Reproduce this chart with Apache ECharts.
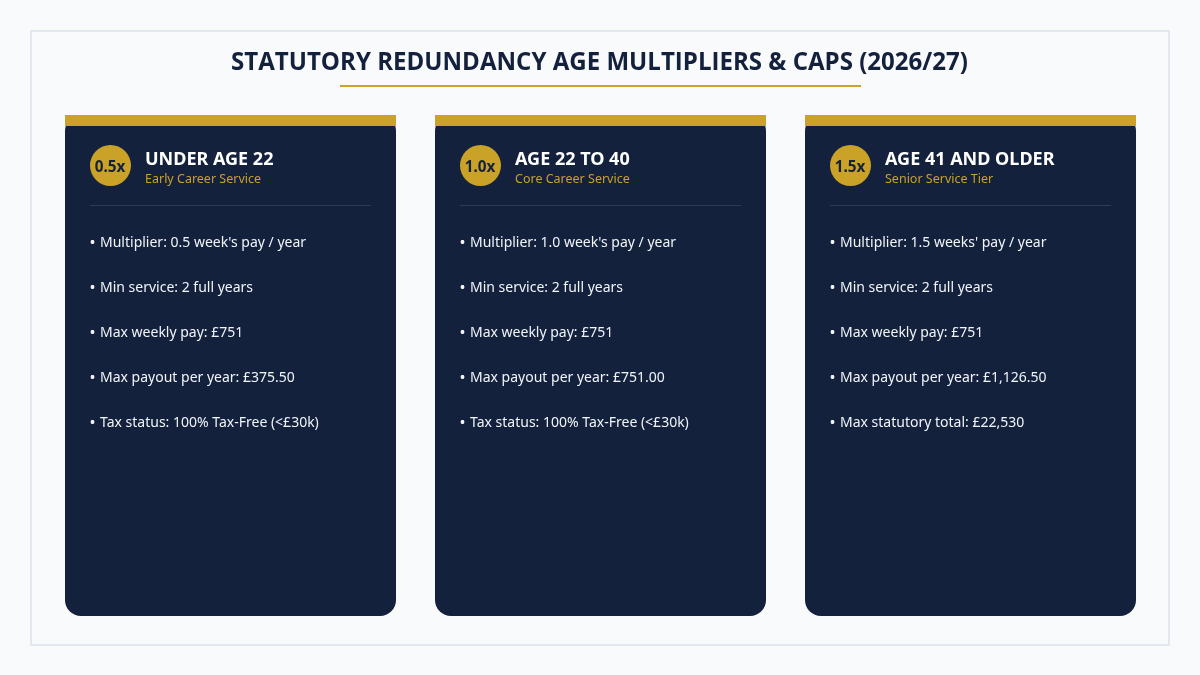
<!DOCTYPE html>
<html><head><meta charset="utf-8">
<style>html,body{margin:0;padding:0;background:#f8fafc}#c{width:1200px;height:675px}</style>
<script src="https://cdn.jsdelivr.net/npm/echarts@6/dist/echarts.min.js"></script>
</head><body><div id="c"></div>
<script>
const chartTitle = 'STATUTORY REDUNDANCY AGE MULTIPLIERS & CAPS (2026/27)';
const badges = ['0.5x', '1.0x', '1.5x'];
const cardTitles = ['UNDER AGE 22', 'AGE 22 TO 40', 'AGE 41 AND OLDER'];
const cardSubtitles = ['Early Career Service', 'Core Career Service', 'Senior Service Tier'];
const card1Items = ["Multiplier: 0.5 week's pay / year", 'Min service: 2 full years', 'Max weekly pay: £751', 'Max payout per year: £375.50', 'Tax status: 100% Tax-Free (<£30k)'];
const card2Items = ["Multiplier: 1.0 week's pay / year", 'Min service: 2 full years', 'Max weekly pay: £751', 'Max payout per year: £751.00', 'Tax status: 100% Tax-Free (<£30k)'];
const card3Items = ["Multiplier: 1.5 weeks' pay / year", 'Min service: 2 full years', 'Max weekly pay: £751', 'Max payout per year: £1,126.50', 'Max statutory total: £22,530'];
const cardItems = [card1Items, card2Items, card3Items];

const NAVY = '#14213d', GOLD = '#c9a227', FONT = '"Noto Sans", sans-serif', TITLEFONT = '"Open Sans", sans-serif';
const els = [];
els.push({type:'rect',shape:{x:31,y:31,width:1138,height:614},style:{fill:'#f8fafc',stroke:'#e2e8f0',lineWidth:2}});
els.push({type:'text',x:599.5,y:63,style:{text:chartTitle,fill:NAVY,font:'700 24.07px '+TITLEFONT,align:'center',verticalAlign:'middle'}});
els.push({type:'rect',shape:{x:340,y:85,width:521,height:2},style:{fill:GOLD}});
badges.forEach((b,i)=>{
  const x0 = 65 + 370*i;
  els.push({type:'rect',shape:{x:x0,y:115,width:331,height:501,r:16},style:{fill:NAVY}});
  els.push({type:'rect',shape:{x:x0,y:115,width:331,height:11},style:{fill:GOLD}});
  els.push({type:'circle',shape:{cx:x0+45.5,cy:165.5,r:20.5},style:{fill:GOLD}});
  els.push({type:'text',x:x0+45,y:167.5,style:{text:b,fill:NAVY,font:'700 15.3px '+FONT,align:'center',verticalAlign:'middle'}});
  els.push({type:'text',x:x0+80,y:159.5,style:{text:cardTitles[i],fill:'#ffffff',font:'700 18px '+FONT,align:'left',verticalAlign:'middle'}});
  els.push({type:'text',x:x0+80,y:179.5,style:{text:cardSubtitles[i],fill:GOLD,font:'400 12.5px '+FONT,align:'left',verticalAlign:'middle'}});
  els.push({type:'rect',shape:{x:x0+25,y:205,width:281,height:1},style:{fill:'#2d3a58'}});
  cardItems[i].forEach((t,j)=>{
    els.push({type:'text',x:x0+24.5,y:243+45*j,style:{text:'•',fill:'#f1f5f9',font:'400 16px '+FONT,align:'left',verticalAlign:'middle'}});
    els.push({type:'text',x:x0+35,y:243+45*j,style:{text:t,fill:'#f1f5f9',font:'400 14px '+FONT,align:'left',verticalAlign:'middle'}});
  });
});
const chart = echarts.init(document.getElementById('c'),null,{renderer:'canvas'});
chart.setOption({animation:false,backgroundColor:'#f8fafc',graphic:{elements:els}});
</script></body></html>
